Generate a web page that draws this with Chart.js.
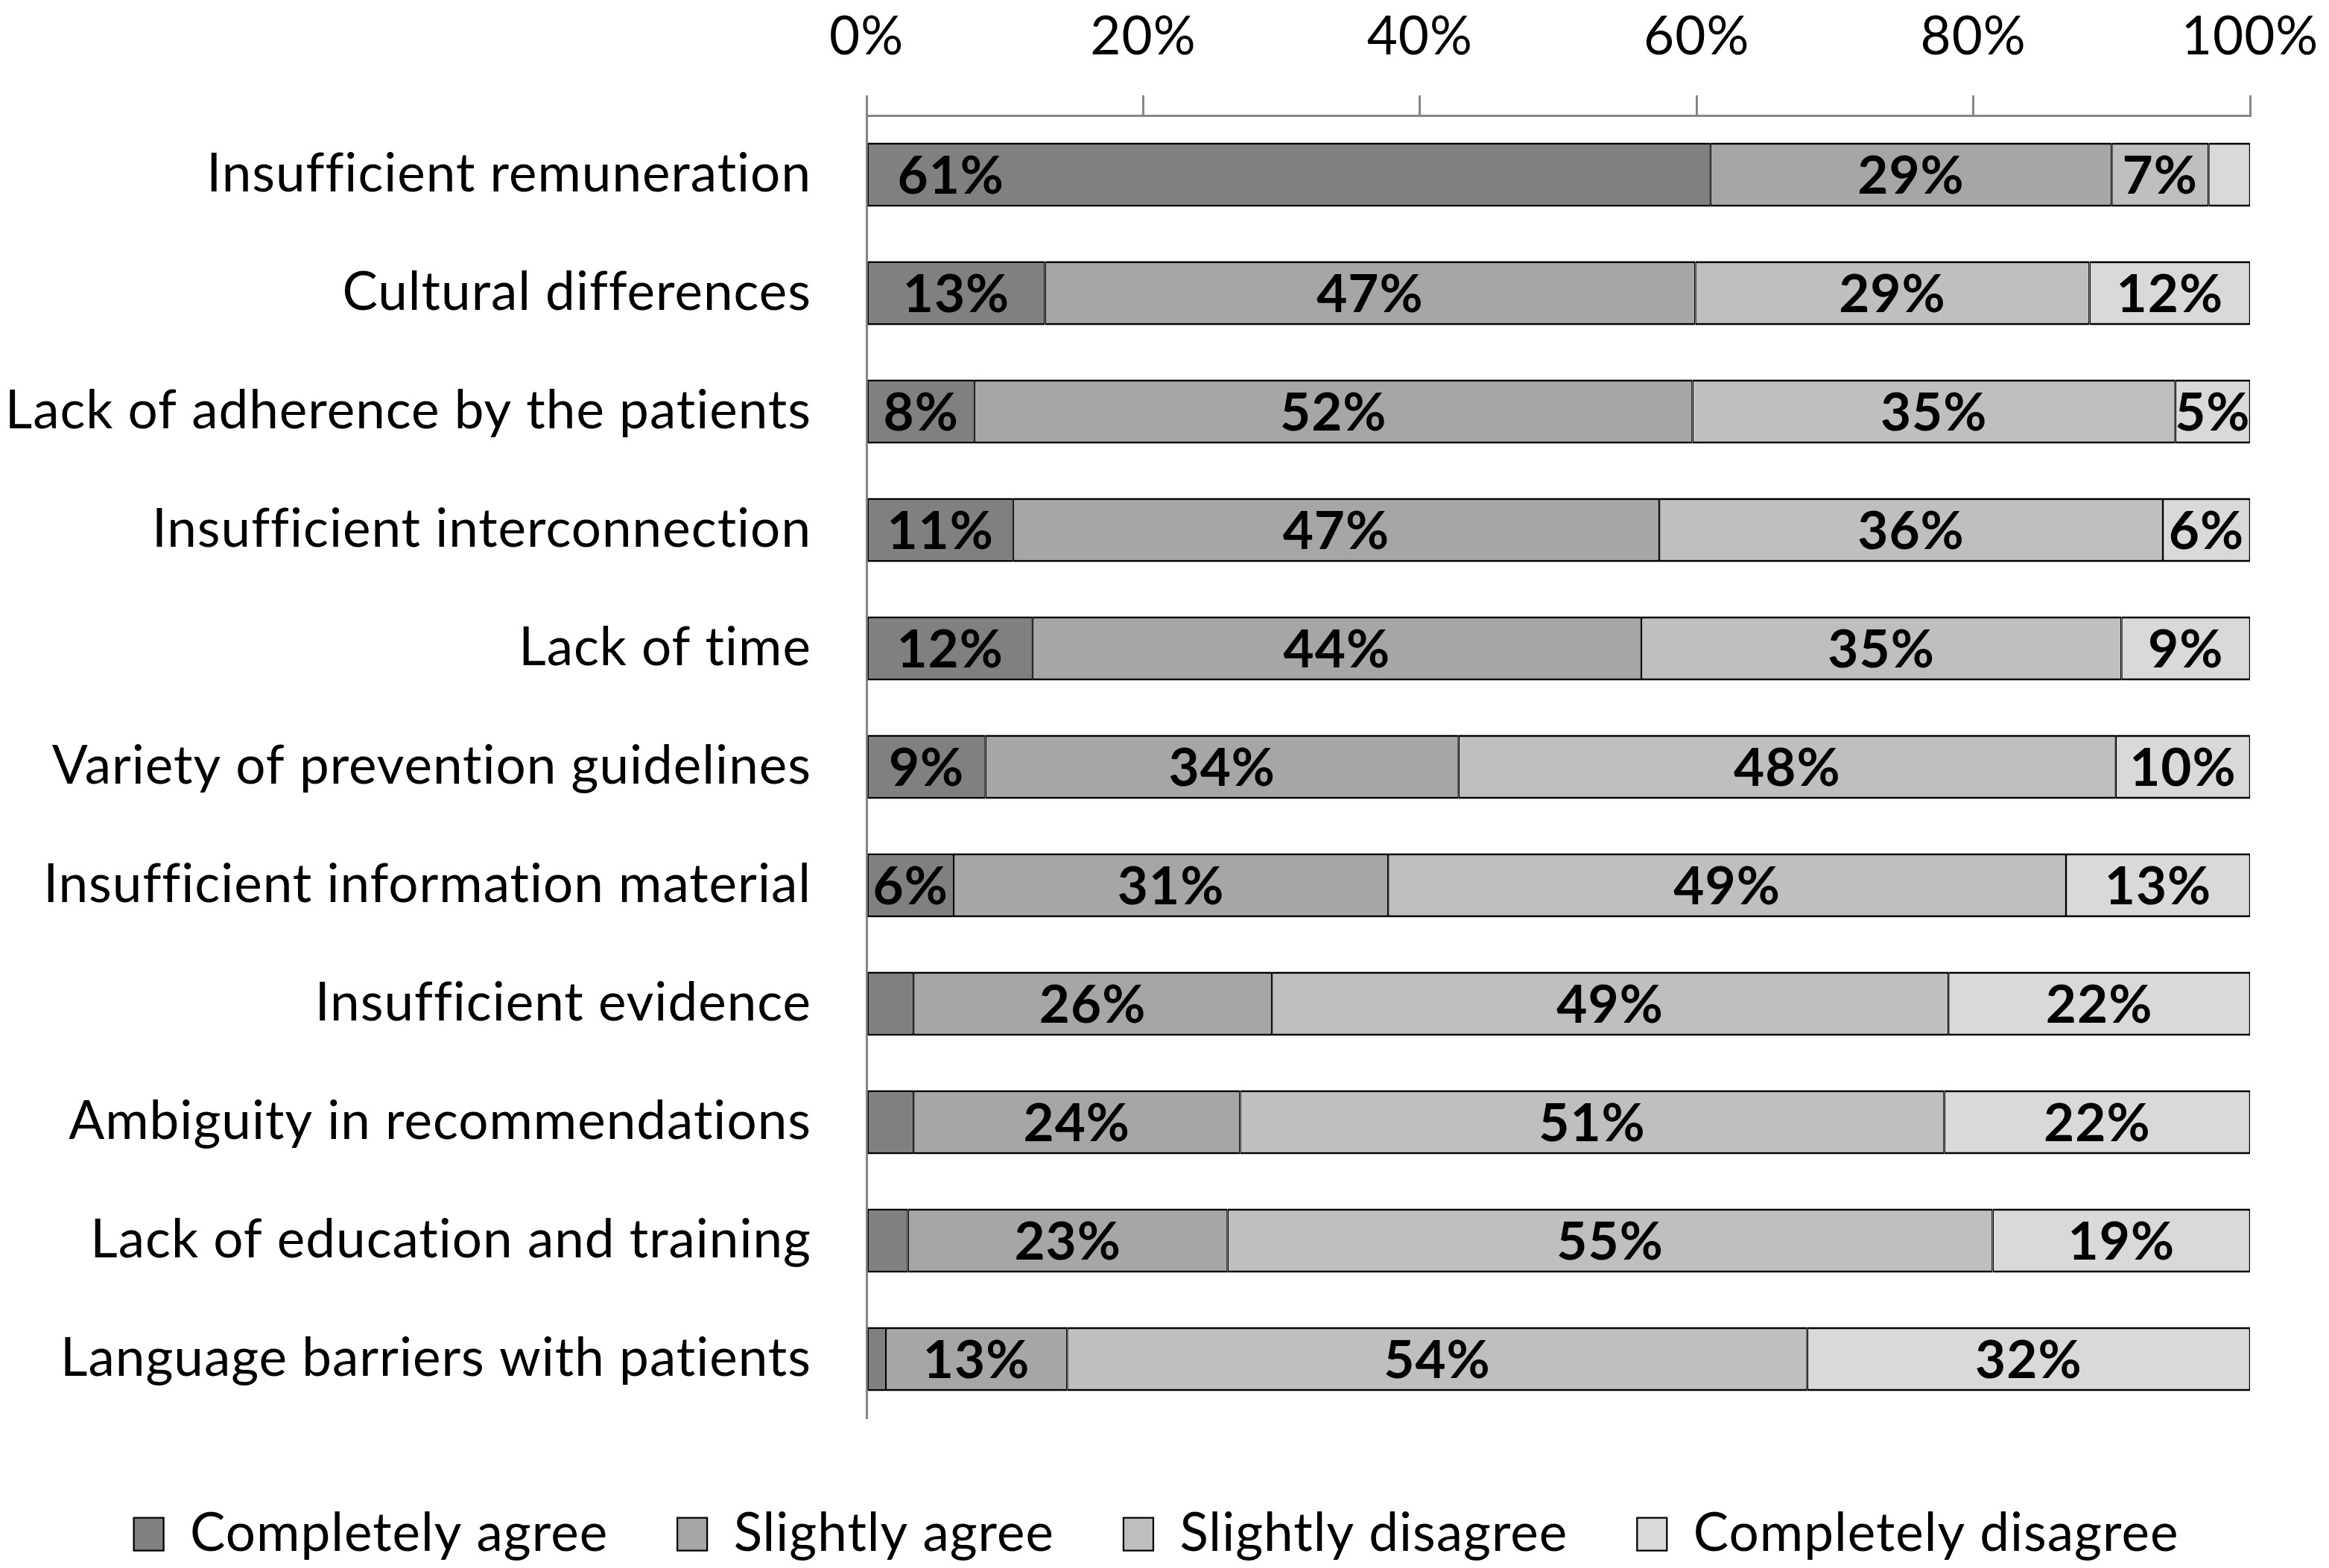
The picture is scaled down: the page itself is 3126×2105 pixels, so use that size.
<!DOCTYPE html>
<html>
<head>
<meta charset="utf-8">
<script src="https://cdn.jsdelivr.net/npm/chart.js@4.4.1/dist/chart.umd.min.js"></script>
<style>
    html, body { margin: 0; padding: 0; background: #fff; }
    #wrap { width: 3126px; height: 2105px; position: relative; }
</style>
</head>
<body>
<div id="wrap"><canvas id="barriersChart"></canvas></div>
<script>
const categories = [
    "Insufficient remuneration",
    "Cultural differences",
    "Lack of adherence by the patients",
    "Insufficient interconnection",
    "Lack of time",
    "Variety of prevention guidelines",
    "Insufficient information material",
    "Insufficient evidence",
    "Ambiguity in recommendations",
    "Lack of education and training",
    "Language barriers with patients"
];

const seriesNames = ["Completely agree", "Slightly agree", "Slightly disagree", "Completely disagree"];

const completelyAgree    = [61, 12.9, 7.8, 10.6, 12.0, 8.6, 6.3, 3.4, 3.4, 3.0, 1.4];
const slightlyAgree      = [29, 47.0, 51.9, 46.7, 44.0, 34.2, 31.4, 25.9, 23.6, 23.1, 13.1];
const slightlyDisagree   = [7, 28.5, 34.9, 36.4, 34.7, 47.5, 49.0, 48.9, 50.9, 55.3, 53.5];
const completelyDisagree = [3, 11.6, 5.4, 6.3, 9.3, 9.7, 13.3, 21.8, 22.1, 18.6, 32.0];

const xTicks = [0, 20, 40, 60, 80, 100];

const fills = ["#808080", "#a6a6a6", "#bfbfbf", "#d9d9d9"];
const fontFamily = "Lato, 'Open Sans', sans-serif";
const fontSize = 71;
const spacing = "1px";

// the 61% label sits at the left of its bar in the original
const leftLabels = [[0, 0]];

// a bit of letter spacing (also stops the fi ligature)
const textSpacing = {
    id: "textSpacing",
    beforeLayout(chart) { chart.ctx.letterSpacing = spacing; },
    beforeDraw(chart) { chart.ctx.letterSpacing = spacing; }
};

// legend row sits a little right of the canvas centre
const legendShift = {
    id: "legendShift",
    afterLayout(chart) { chart.legend.left = 84; }
};

const segmentLabels = {
    id: "segmentLabels",
    afterDatasetsDraw(chart) {
        const ctx = chart.ctx;
        ctx.save();
        ctx.letterSpacing = spacing;
        ctx.font = "bold " + fontSize + "px " + fontFamily;
        ctx.fillStyle = "#000";
        ctx.textBaseline = "middle";
        chart.data.datasets.forEach((ds, di) => {
            const meta = chart.getDatasetMeta(di);
            meta.data.forEach((bar, i) => {
                const v = ds.data[i];
                if (v < 4) return;
                const text = Math.round(v) + "%";
                const left = leftLabels.some(p => p[0] === di && p[1] === i);
                if (left) {
                    ctx.textAlign = "left";
                    ctx.fillText(text, Math.min(bar.base, bar.x) + 40, bar.y + 3);
                } else {
                    ctx.textAlign = "center";
                    ctx.fillText(text, (bar.base + bar.x) / 2, bar.y + 3);
                }
            });
        });
        ctx.restore();
    }
};

const seriesData = [completelyAgree, slightlyAgree, slightlyDisagree, completelyDisagree];

const chart = new Chart(document.getElementById("barriersChart"), {
    type: "bar",
    data: {
        labels: categories,
        datasets: seriesData.map((d, i) => ({
            label: seriesNames[i],
            data: d,
            backgroundColor: fills[i],
            borderColor: "#000",
            borderWidth: { top: 3, bottom: 3, left: 1.5, right: 1.5 },
            borderSkipped: false,
            barPercentage: 0.54,
            categoryPercentage: 1
        }))
    },
    options: {
        indexAxis: "y",
        responsive: true,
        maintainAspectRatio: false,
        devicePixelRatio: 1,
        animation: false,
        layout: { padding: { left: 0, right: 106, top: 0, bottom: 0 } },
        scales: {
            x: {
                position: "top",
                stacked: true,
                min: 0,
                max: 100,
                afterBuildTicks: scale => { scale.ticks = xTicks.map(v => ({ value: v })); },
                afterFit: scale => { scale.height = 155; },
                ticks: {
                    callback: v => v + "%",
                    color: "#000",
                    padding: 0,
                    font: { family: fontFamily, size: fontSize, lineHeight: 2.2 }
                },
                grid: {
                    drawOnChartArea: false,
                    drawTicks: true,
                    tickLength: 27,
                    color: "#868686",
                    lineWidth: 3
                },
                border: { display: true, color: "#868686", width: 3 }
            },
            y: {
                stacked: true,
                afterFit: scale => { scale.width = 1163; },
                ticks: {
                    color: "#000",
                    padding: 66,
                    font: { family: fontFamily, size: fontSize }
                },
                grid: { display: false },
                border: { display: true, color: "#868686", width: 3 }
            }
        },
        plugins: {
            legend: {
                position: "bottom",
                // empty title only adds white space above the legend row
                title: { display: true, text: "", font: { size: 1, lineHeight: 1 }, padding: 13 },
                labels: {
                    color: "#000",
                    boxWidth: 40,
                    boxHeight: 44,
                    padding: 93,
                    font: { family: fontFamily, size: fontSize }
                }
            },
            tooltip: { enabled: false }
        }
    },
    plugins: [textSpacing, legendShift, segmentLabels]
});
</script>
</body>
</html>
